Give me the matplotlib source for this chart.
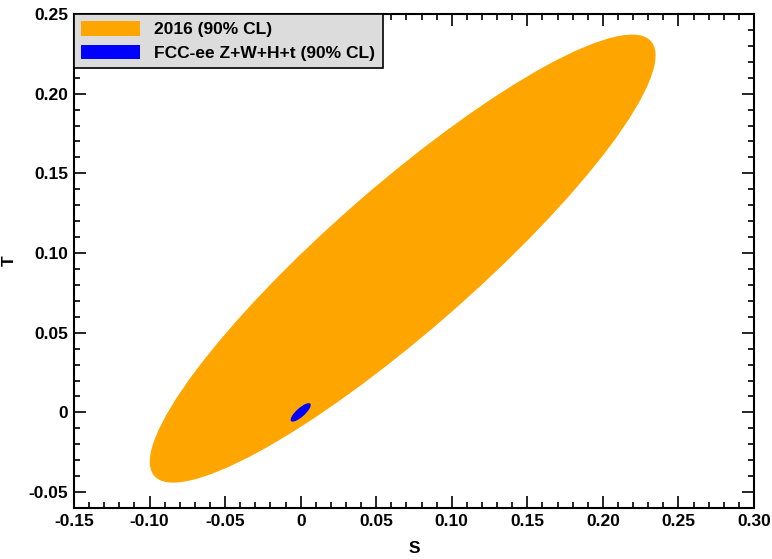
#!/usr/bin/env python
# -*- coding: utf-8 -*-

import numpy as np
import matplotlib
matplotlib.use('Agg')
import matplotlib.pyplot as plt
from matplotlib.patches import Ellipse, Patch
from matplotlib.ticker import MultipleLocator, FuncFormatter

plt.rcParams['font.family'] = ['Liberation Sans', 'DejaVu Sans']
plt.rcParams['font.weight'] = 'bold'

# fit results (centre, 1-sigma widths, correlation) for S and T
labels = ['2016 (90% CL)', 'FCC-ee Z+W+H+t (90% CL)']
colors = ['#FFA500', '#0000FF']
centre_S = [0.0675, 0.0]
centre_T = [0.0965, 0.0]
sigma_S = [0.078, 0.0031]
sigma_T = [0.0655, 0.0027]
rho = [0.907, 0.80]

# 2 dof chi2 value for 90% CL
k90 = 4.605


def cov_ellipse(x0, y0, sx, sy, r, k, **kw):
    """Ellipse patch for a 2D gaussian contour"""
    cov = np.array([[sx**2, r * sx * sy], [r * sx * sy, sy**2]])
    vals, vecs = np.linalg.eigh(cov)
    angle = np.degrees(np.arctan2(vecs[1, 1], vecs[0, 1]))
    w = 2 * np.sqrt(k * vals[1])
    h = 2 * np.sqrt(k * vals[0])
    return Ellipse((x0, y0), w, h, angle=angle, **kw)


fig = plt.figure(figsize=(7.72, 5.59), dpi=100)
ax = fig.add_axes([0.0959, 0.0912, 0.8808, 0.8838])

handles = []
for i in range(len(labels)):
    e = cov_ellipse(centre_S[i], centre_T[i], sigma_S[i], sigma_T[i], rho[i], k90,
                    facecolor=colors[i], edgecolor='none', zorder=2 + i)
    ax.add_patch(e)
    handles.append(Patch(facecolor=colors[i], edgecolor='none', label=labels[i]))

ax.set_xlim(-0.15, 0.30)
ax.set_ylim(-0.06, 0.25)

ax.xaxis.set_major_locator(MultipleLocator(0.05))
ax.xaxis.set_minor_locator(MultipleLocator(0.01))
ax.yaxis.set_major_locator(MultipleLocator(0.05))
ax.yaxis.set_minor_locator(MultipleLocator(0.01))


def fmt(v, pos):
    if abs(v) < 1e-9:
        return '0'
    return '%.2f' % v


ax.xaxis.set_major_formatter(FuncFormatter(fmt))
ax.yaxis.set_major_formatter(FuncFormatter(fmt))

ax.tick_params(which='both', direction='in', top=True, right=True,
               labelsize=12.5, width=1.2)
ax.tick_params(which='major', length=8.5, pad=4)
ax.tick_params(which='minor', length=4.3)
for s in ax.spines.values():
    s.set_linewidth(1.5)

ax.set_xlabel('S', fontsize=12.5, fontweight='bold', labelpad=9)
ax.set_ylabel('T', fontsize=12.5, fontweight='bold', labelpad=9)

leg = ax.legend(handles=handles, loc='upper left', borderaxespad=0,
                fancybox=False, framealpha=1, facecolor='#dcdcdc',
                edgecolor='black', prop={'size': 12.5, 'weight': 'bold'},
                handlelength=3.4, handleheight=0.9, handletextpad=0.8,
                borderpad=0.42, labelspacing=0.42)
leg.get_frame().set_linewidth(1.2)
leg.set_zorder(5)

fig.savefig('out.png', dpi=100)
